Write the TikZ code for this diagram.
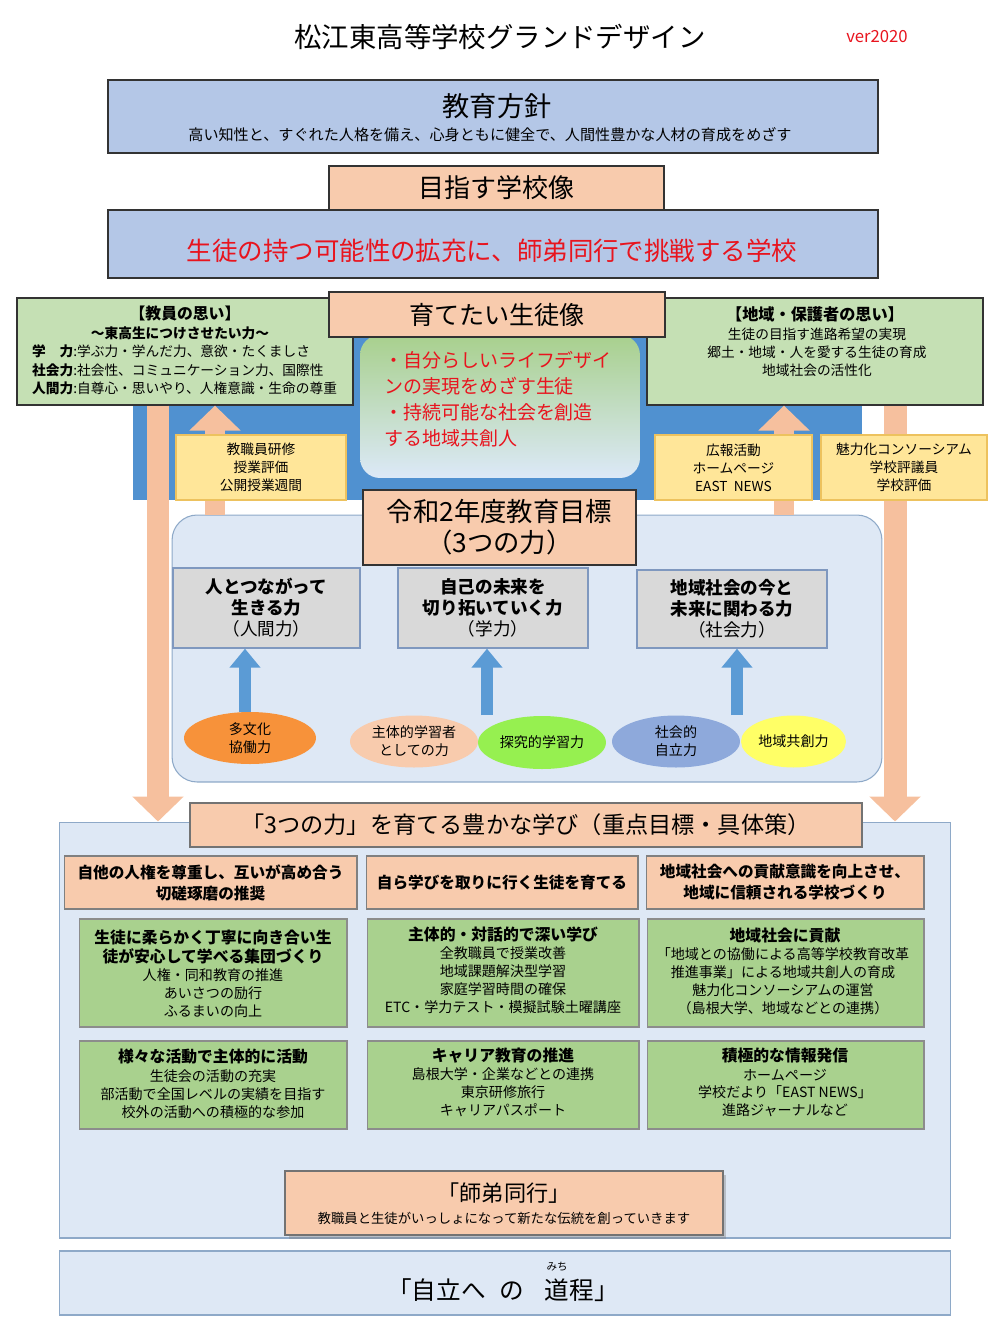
\documentclass[tikz,border=0pt]{standalone}
\usepackage{fontspec}
\setmainfont{Noto Sans CJK JP}
\usetikzlibrary{arrows.meta,shapes.geometric,shadows}

\definecolor{aoiro}{HTML}{B4C7E7}
\definecolor{momo}{HTML}{F8CBAD}
\definecolor{wakaba}{HTML}{C5E0B4}
\definecolor{midori}{HTML}{A9D18E}
\definecolor{konao}{HTML}{5091D0}
\definecolor{aoya}{HTML}{5B9BD5}
\definecolor{usuao}{HTML}{DEE8F5}
\definecolor{waku}{HTML}{8EA9C8}
\definecolor{kiiro}{HTML}{FFE699}
\definecolor{kiwaku}{HTML}{EDC25E}
\definecolor{nezumi}{HTML}{D9D9D9}
\definecolor{nezuwaku}{HTML}{7F98BF}
\definecolor{aka}{HTML}{E8141E}
\definecolor{daidai}{HTML}{F7923A}
\definecolor{kimidori}{HTML}{96F050}
\definecolor{fuji}{HTML}{8EA9DB}
\definecolor{remon}{HTML}{FFFF66}
\definecolor{yajiiro}{HTML}{F6C09E}
\definecolor{gradA}{HTML}{A8D08D}
\definecolor{gradB}{HTML}{BDD7EE}
\definecolor{gradC}{HTML}{DCE9F8}

% ruby over one kanji
\newcommand\furi[2]{\leavevmode\setbox0\hbox{#1}\rlap{\hbox to\wd0{\hss\raisebox{16pt}{\fontsize{6}{6}\selectfont #2}\hss}}\box0}

\begin{document}
\begin{tikzpicture}[x=0.02cm, y=-0.02cm,
    hako/.style={draw=black!80, line width=0.7pt},
    aohako/.style={hako, fill=aoiro},
    momohako/.style={hako, fill=momo},
    wakahako/.style={hako, fill=wakaba},
    kihako/.style={draw=kiwaku, line width=0.6pt, fill=kiiro, align=center, font=\fontsize{7.8}{10.2}\selectfont},
    haihako/.style={draw=nezuwaku, line width=0.8pt, fill=nezumi, align=center, font=\fontsize{10}{11.9}\selectfont},
    shohako/.style={draw=black!50, line width=0.6pt, fill=momo, align=center, font=\bfseries\fontsize{8.9}{12}\selectfont},
    midohako/.style={draw=black!45, line width=0.6pt, fill=midori},
    daen/.style={ellipse, minimum width=2.56cm, minimum height=1.04cm, inner sep=0pt, align=center, font=\fontsize{8}{10.2}\selectfont},
    midashi/.style={font=\bfseries\fontsize{9}{11.3}\selectfont, align=center},
    honbun/.style={font=\fontsize{8}{10.2}\selectfont, align=center},
    futoyaji/.style={line width=0.46cm, draw=yajiiro, -{Triangle[width=1cm, length=0.5cm]}},
    aoyaji/.style={line width=0.24cm, draw=aoya, -{Triangle[width=0.6cm, length=0.38cm]}}
  ]
  \useasboundingbox (0,0) rectangle (1000,1333);

  % --- title ---
  \node[font=\fontsize{15.6}{18}\selectfont] (daimei) at (500,37) {松江東高等学校グランドデザイン};
  \node[font=\fontsize{9.5}{11}\selectfont, text=aka] (ban) at (877,37) {ver2020};

  % --- 教育方針 / 目指す学校像 ---
  \node[aohako, minimum width=15.4cm, minimum height=1.46cm] (hoshin) at (493,116.5) {};
  \node[font=\fontsize{15.5}{18}\selectfont] (hoshinT) at (497,106) {教育方針};
  \node[font=\fontsize{8.6}{10}\selectfont] (hoshinS) at (490,135) {高い知性と、すぐれた人格を備え、心身ともに健全で、人間性豊かな人材の育成をめざす};
  \node[aohako, minimum width=15.4cm, minimum height=1.36cm] (gakko) at (493,244) {};
  \node[font=\fontsize{14.5}{17}\selectfont, text=aka] (gakkoT) at (492,251) {生徒の持つ可能性の拡充に、師弟同行で挑戦する学校};
  \node[momohako, minimum width=6.7cm, minimum height=0.88cm, font=\fontsize{14.8}{17}\selectfont] (mezasu) at (496.5,188) {目指す学校像};

  % --- blue band ---
  \fill[konao] (133,320) rectangle (862,500);

  % --- 教員の思い ---
  \node[wakahako, minimum width=6.72cm, minimum height=2.14cm] (kyoin) at (185,351.5) {};
  \node[font=\bfseries\fontsize{9}{11}\selectfont] (kyoinT) at (185,314) {【教員の思い】};
  \node[font=\bfseries\fontsize{7.8}{10}\selectfont] (kyoinS) at (180,333) {～東高生につけさせたい力～};
  \node[anchor=west, align=left, font=\fontsize{7.8}{10.5}\selectfont] (kyoinL) at (26,370)
    {\textbf{学　力}:学ぶ力・学んだ力、意欲・たくましさ\\\textbf{社会力}:社会性、コミュニケーション力、国際性\\\textbf{人間力}:自尊心・思いやり、人権意識・生命の尊重};

  % --- 地域・保護者の思い ---
  \node[wakahako, minimum width=6.72cm, minimum height=2.14cm] (chiiki) at (815,351.5) {};
  \node[font=\bfseries\fontsize{9.2}{11}\selectfont] (chiikiT) at (815,314) {【地域・保護者の思い】};
  \node[align=center, font=\fontsize{7.8}{10.2}\selectfont] (chiikiL) at (817,352) {生徒の目指す進路希望の実現\\郷土・地域・人を愛する生徒の育成\\地域社会の活性化};

  % --- 育てたい生徒像 ---
  \node[rounded corners=0.4cm, top color=gradA, middle color=gradB, bottom color=gradC, minimum width=5.6cm, minimum height=2.86cm] (zo) at (500,406.5) {};
  \node[anchor=west, align=left, text=aka, font=\fontsize{10.8}{14.7}\selectfont] (zoT) at (378,399) {・自分らしいライフデザイ\\ンの実現をめざす生徒\\・持続可能な社会を創造\\する地域共創人};
  \node[momohako, minimum width=6.72cm, minimum height=0.9cm, font=\fontsize{14.3}{17}\selectfont] (sodate) at (497,314.5) {育てたい生徒像};

  % --- 3つの力 area and lower panel ---
  \node[draw=waku, fill=usuao, line width=0.6pt, rounded corners=0.5cm, minimum width=14.2cm, minimum height=5.34cm] (ryoiki) at (527,648.5) {};
  \node[draw=waku, fill=usuao, line width=0.6pt, minimum width=17.84cm, minimum height=8.32cm] (daiwaku) at (505,1030) {};

  % --- peach arrows ---
  \coordinate (hidari) at (158,0);
  \coordinate (migi) at (895,0);
  \coordinate (noboriA) at (215,0);
  \coordinate (noboriB) at (784,0);
  \draw[futoyaji] (kyoin.south -| hidari) -- (daiwaku.north -| hidari);
  \draw[futoyaji] (chiiki.south -| migi) -- (daiwaku.north -| migi);
  \draw[futoyaji, line width=0.4cm] (ryoiki.north -| noboriA) -- (kyoin.south -| noboriA);
  \draw[futoyaji, line width=0.4cm] (ryoiki.north -| noboriB) -- (chiiki.south -| noboriB);

  % --- yellow boxes ---
  \node[kihako, minimum width=3.4cm, minimum height=1.3cm] (kenshu) at (261,467.5) {教職員研修\\授業評価\\公開授業週間};
  \node[kihako, minimum width=3.14cm, minimum height=1.3cm] (koho) at (733.5,467.5) {広報活動\\ホームページ\\EAST\ \ NEWS};
  \node[kihako, minimum width=3.32cm, minimum height=1.3cm] (miryoku) at (904,467.5) {魅力化コンソーシアム\\学校評議員\\学校評価};

  % --- 令和2年度教育目標 ---
  \node[momohako, minimum width=5.46cm, minimum height=1.5cm, align=center, font=\fontsize{15}{17.6}\selectfont] (reiwa) at (499.5,527.5) {令和2年度教育目標\\（3つの力）};

  \node[haihako, minimum width=3.74cm, minimum height=1.6cm] (ningen) at (266.5,608) {\textbf{人とつながって}\\\textbf{生きる力}\\（人間力）};
  \node[haihako, minimum width=3.8cm, minimum height=1.6cm] (gakuryoku) at (493,608) {\textbf{自己の未来を}\\\textbf{切り拓いていく力}\\（学力）};
  \node[haihako, minimum width=3.8cm, minimum height=1.56cm] (shakai) at (732,609) {\textbf{地域社会の今と}\\\textbf{未来に関わる力}\\（社会力）};

  \node[daen, fill=daidai, minimum width=2.64cm] (tabunka) at (250,738) {多文化\\協働力};
  \node[daen, fill=momo] (shutai) at (414,741.5) {主体的学習者\\としての力};
  \node[daen, fill=kimidori, minimum height=1.06cm] (tankyu) at (542,742.5) {探究的学習力};
  \node[daen, fill=fuji] (jiritsu) at (676,741.5) {社会的\\自立力};
  \node[daen, fill=remon, minimum width=2.1cm] (kyoso) at (793.5,741.5) {地域共創力};

  \coordinate (yaA) at (245,0);
  \coordinate (yaB) at (487,0);
  \coordinate (yaC) at (737,0);
  \draw[aoyaji] (tabunka.north -| yaA) -- (ningen.south -| yaA);
  \draw[aoyaji] (shutai.north -| yaB) -- (gakuryoku.south -| yaB);
  \draw[aoyaji] (jiritsu.north -| yaC) -- (shakai.south -| yaC);

  % --- 豊かな学び ---
  \node[hako, draw=black!55, fill=momo, minimum width=13.44cm, minimum height=0.88cm, font=\fontsize{13.2}{16}\selectfont] (manabi) at (526,825) {「3つの力」を育てる豊かな学び（重点目標・具体策）};

  \node[shohako, minimum width=5.86cm, minimum height=1.06cm] (jita) at (210.5,882.5) {自他の人権を尊重し、互いが高め合う\\切磋琢磨の推奨};
  \node[shohako, minimum width=5.44cm, minimum height=1.06cm] (mizukara) at (502,882.5) {自ら学びを取りに行く生徒を育てる};
  \node[shohako, minimum width=5.56cm, minimum height=1.06cm] (koken) at (785,882.5) {地域社会への貢献意識を向上させ、\\地域に信頼される学校づくり};

  \node[midohako, minimum width=5.36cm, minimum height=2.16cm] (shudan) at (213,973) {};
  \node[midashi] (shudanT) at (213,947) {生徒に柔らかく丁寧に向き合い生\\徒が安心して学べる集団づくり};
  \node[honbun] (shudanL) at (213,993) {人権・同和教育の推進\\あいさつの励行\\ふるまいの向上};

  \node[midohako, minimum width=5.44cm, minimum height=2.16cm] (fukai) at (503,973) {};
  \node[midashi] (fukaiT) at (503,934) {主体的・対話的で深い学び};
  \node[honbun] (fukaiL) at (503,980) {全教職員で授業改善\\地域課題解決型学習\\家庭学習時間の確保\\ETC・学力テスト・模擬試験土曜講座};

  \node[midohako, minimum width=5.54cm, minimum height=2.16cm] (kokenB) at (785.5,973) {};
  \node[midashi] (kokenBT) at (785,936) {地域社会に貢献};
  \node[honbun] (kokenBL) at (783,981.5) {「地域との協働による高等学校教育改革\\推進事業」による地域共創人の育成\\魅力化コンソーシアムの運営\\（島根大学、地域などとの連携）};

  \node[midohako, minimum width=5.36cm, minimum height=1.76cm] (katsudo) at (213,1085) {};
  \node[midashi] (katsudoT) at (213,1057) {様々な活動で主体的に活動};
  \node[honbun] (katsudoL) at (213,1094) {生徒会の活動の充実\\部活動で全国レベルの実績を目指す\\校外の活動への積極的な参加};

  \node[midohako, minimum width=5.44cm, minimum height=1.76cm] (career) at (503,1085) {};
  \node[midashi] (careerT) at (503,1056) {キャリア教育の推進};
  \node[honbun] (careerL) at (503,1092) {島根大学・企業などとの連携\\東京研修旅行\\キャリアパスポート};

  \node[midohako, minimum width=5.54cm, minimum height=1.76cm] (joho) at (785.5,1085) {};
  \node[midashi] (johoT) at (785,1056) {積極的な情報発信};
  \node[honbun] (johoL) at (785,1093) {ホームページ\\学校だより「EAST NEWS」\\進路ジャーナルなど};

  % --- 師弟同行 / 自立への道程 ---
  \node[hako, draw=black!55, fill=momo, drop shadow={opacity=0.4, shadow xshift=2pt, shadow yshift=-2pt}, minimum width=8.76cm, minimum height=1.28cm] (shitei) at (504,1203) {};
  \node[font=\fontsize{12.6}{15}\selectfont] (shiteiT) at (504,1193) {「師弟同行」};
  \node[font=\fontsize{7.6}{9}\selectfont] (shiteiS) at (504,1218) {教職員と生徒がいっしょになって新たな伝統を創っていきます};

  \node[draw=waku, fill=usuao, line width=0.6pt, minimum width=17.84cm, minimum height=1.28cm] (michi) at (505,1283) {};
  \node[anchor=base, font=\fontsize{14}{16}\selectfont] (michiT) at (503,1299) {「自立へ\hspace{0.55em}の\hspace{0.85em}\furi{道}{みち}程」};
\end{tikzpicture}
\end{document}
